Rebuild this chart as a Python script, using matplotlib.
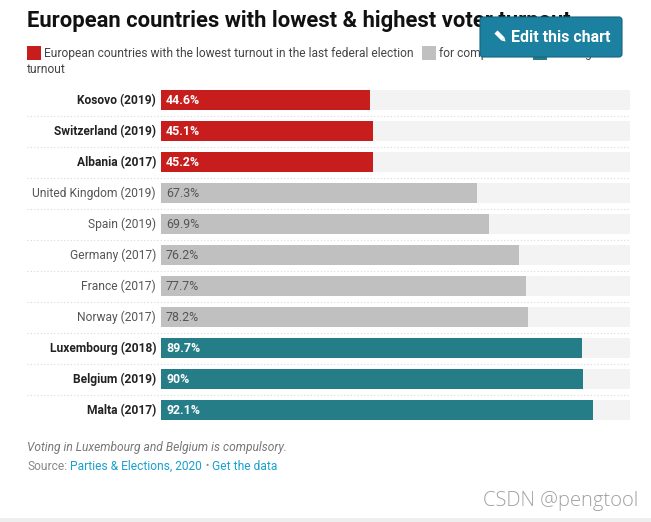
import matplotlib
matplotlib.use("Agg")
import matplotlib.pyplot as plt
from matplotlib.patches import FancyBboxPatch, Rectangle, Polygon

plt.rcParams['font.family'] = ['Roboto', 'DejaVu Sans']

countries = ["Kosovo (2019)", "Switzerland (2019)", "Albania (2017)", "United Kingdom (2019)",
             "Spain (2019)", "Germany (2017)", "France (2017)", "Norway (2017)",
             "Luxembourg (2018)", "Belgium (2019)", "Malta (2017)"]
values = [44.6, 45.1, 45.2, 67.3, 69.9, 76.2, 77.7, 78.2, 89.7, 90, 92.1]
value_labels = ["44.6%", "45.1%", "45.2%", "67.3%", "69.9%", "76.2%", "77.7%", "78.2%", "89.7%", "90%", "92.1%"]
groups = ["low", "low", "low", "mid", "mid", "mid", "mid", "mid", "high", "high", "high"]
colors = {"low": "#c71e1d", "mid": "#c0c0c0", "high": "#257d87"}
title = "European countries with lowest & highest voter turnout"

W, H = 651, 522
FS = 8.68
fig = plt.figure(figsize=(W / 100, H / 100), dpi=100, facecolor="white")

# page-level layer in pixel coordinates
page = fig.add_axes([0, 0, 1, 1], zorder=1)
page.set_xlim(0, W); page.set_ylim(H, 0); page.axis("off"); page.patch.set_alpha(0)

# bar axes: x=161..630 px is 0..100 %, rows 31 px apart
top, bottom = 84.5, 425.5
ax = fig.add_axes([161 / W, 1 - bottom / H, (630.2 - 161) / W, (bottom - top) / H], zorder=2)
ax.set_xlim(0, 100); ax.set_ylim(len(values) - 0.5, -0.5)
ax.axis("off"); ax.patch.set_alpha(0)

ys = list(range(len(values)))
ax.barh(ys, [100] * len(ys), height=20 / 31, color="#f3f3f3", linewidth=0)
ax.barh(ys, values, height=20 / 31, color=[colors[g] for g in groups], linewidth=0)

for i, (name, lab, g) in enumerate(zip(countries, value_labels, groups)):
    emph = g != "mid"
    ypx = 100 + 31 * i
    page.text(156, ypx - 0.8, name, ha="right", va="center_baseline", fontsize=FS,
              fontweight="bold" if emph else "normal", color="#222222" if emph else "#555555")
    ax.text(1.07, i - 0.03, lab, ha="left", va="center_baseline", fontsize=8.9,
            fontweight="bold" if emph else "normal", color="white" if emph else "#555555")
    if i < len(values) - 1:
        page.plot([27, 630], [ypx + 15.5] * 2, color="#d9d9d9", lw=0.8,
                  linestyle=(0, (1, 2)), zorder=0)

# header
page.text(27, 20.5, title, fontsize=15.8, fontweight="bold", color="#111111", va="center")
page.add_patch(Rectangle((27, 46), 14, 14, color=colors["low"], lw=0))
page.text(44, 53, "European countries with the lowest turnout in the last federal election",
          fontsize=8.65, color="#444444", va="center")
page.add_patch(Rectangle((422, 46), 14, 14, color=colors["mid"], lw=0))
page.text(439, 53, "for comparison", fontsize=FS, color="#444444", va="center")
page.add_patch(Rectangle((533, 46), 14, 14, color=colors["high"], lw=0))
page.text(550, 53, "with highest", fontsize=FS, color="#444444", va="center")
page.text(27, 69.5, "turnout", fontsize=FS, color="#444444", va="center")

# button overlay
page.add_patch(FancyBboxPatch((482, 19), 138, 36, boxstyle="round,pad=2,rounding_size=3",
                              facecolor="#1c80a0", edgecolor="#16647e", lw=0.8, zorder=5))
page.plot([496, 503], [32, 39], color="white", lw=3.2, solid_capstyle="butt", zorder=6)
page.add_patch(Polygon([[501.5, 40.5], [504.5, 37.5], [505.5, 41.5]], facecolor="white", lw=0, zorder=6))
page.text(511, 37, "Edit this chart", fontsize=11.55, fontweight="bold", color="white",
          va="center", zorder=6)

# footer
page.text(27, 447, "Voting in Luxembourg and Belgium is compulsory.", fontsize=FS,
          style="italic", color="#777777", va="center")
page.text(27, 466, "Source:", fontsize=FS, color="#888888", va="center")
page.text(70, 466, "Parties & Elections, 2020", fontsize=FS, color="#18a1cd", va="center")
page.text(205, 466, "\u2022", fontsize=7, color="#888888", va="center")
page.text(212, 466, "Get the data", fontsize=FS, color="#18a1cd", va="center")
page.text(638, 501, "CSDN @pengtool", family=["Open Sans", "DejaVu Sans"], fontsize=14.5,
          color="#a0a0a0", ha="right", va="center", fontweight="light")
page.add_patch(Rectangle((0, 518), W, 4, color="#eeeeee", lw=0))

fig.savefig("out.png", dpi=100, facecolor="white")
